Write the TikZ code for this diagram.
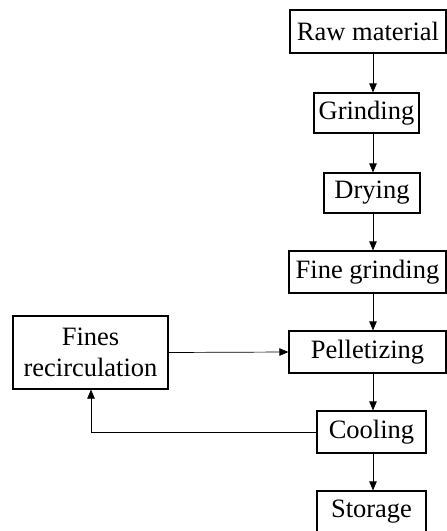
\documentclass[tikz,border=0pt]{standalone}
\usepackage{fontspec}
\setmainfont{Liberation Serif}
\usetikzlibrary{arrows.meta}
\begin{document}
\begin{tikzpicture}[x=1pt,y=-1pt,
  box/.style={draw,line width=1.2pt,inner sep=0pt,align=center,font=\fontsize{26.5}{31}\selectfont},
  arr/.style={line width=0.7pt,-{Triangle[length=9pt,width=7.5pt]}},
  ln/.style={line width=0.7pt}]
\useasboundingbox (0,0) rectangle (447,531);
\node[box,minimum width=156pt,minimum height=43pt] (raw) at (368,31.5) {Raw material};
\node[box,minimum width=105pt,minimum height=40pt] (grind) at (366.5,113) {Grinding};
\node[box,minimum width=96pt,minimum height=40pt] (dry) at (372,193) {Drying};
\node[box,minimum width=157pt,minimum height=42pt] (fine) at (367.5,272) {Fine grinding};
\node[box,minimum width=157pt,minimum height=42pt] (pel) at (367.5,352) {Pelletizing};
\node[box,minimum width=155pt,minimum height=73pt] (fines) at (90.5,352.5) {Fines\\recirculation};
\node[box,minimum width=109pt,minimum height=42pt] (cool) at (371.5,432) {Cooling};
\node[box,minimum width=109pt,minimum height=42pt] (stor) at (371.5,512) {Storage};
\coordinate (ax) at (373,0);
\coordinate (bx) at (91,0);
\draw[arr] (raw.south -| ax) -- (grind.north -| ax);
\draw[arr] (grind.south -| ax) -- (dry.north -| ax);
\draw[arr] (dry.south -| ax) -- (fine.north -| ax);
\draw[arr] (fine.south -| ax) -- (pel.north -| ax);
\draw[arr] (pel.south -| ax) -- (cool.north -| ax);
\draw[arr] (cool.south -| ax) -- (stor.north -| ax);
\draw[arr] (fines.east) -- (pel.west);
\draw[arr] (cool.west) -| (fines.south -| bx);
\end{tikzpicture}
\end{document}
